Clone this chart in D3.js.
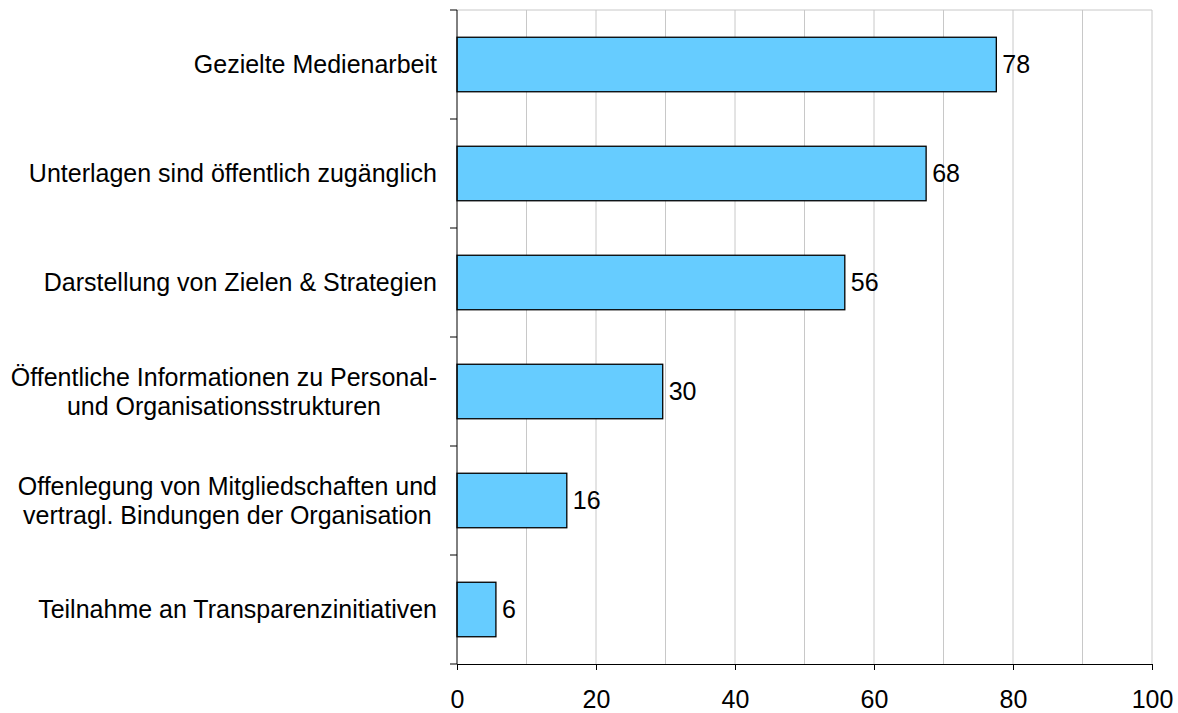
<!DOCTYPE html>
<html>
<head>
<meta charset="utf-8">
<script src="https://cdn.jsdelivr.net/npm/d3@7"></script>
<style>
    body { margin: 0; background: #fff; }
    svg { display: block; font-family: "Liberation Sans", Arial, sans-serif; }
</style>
</head>
<body>
<div id="chart"></div>
<script>
const categories = [
    ["Gezielte Medienarbeit"],
    ["Unterlagen sind öffentlich zugänglich"],
    ["Darstellung von Zielen & Strategien"],
    ["Öffentliche Informationen zu Personal-", "und Organisationsstrukturen"],
    ["Offenlegung von Mitgliedschaften und", "vertragl. Bindungen der Organisation"],
    ["Teilnahme an Transparenzinitiativen"]
];
const values = [77.6, 67.5, 55.8, 29.6, 15.8, 5.6];
const xTicks = [0, 20, 40, 60, 80, 100];
const gridTicks = [10, 20, 30, 40, 50, 60, 70, 80, 90, 100];

const chartApp = (() => {
    const width = 1178;
    const height = 713;
    const margin = { top: 10, right: 26, bottom: 49, left: 457 };
    const fontSize = 25;

    const draw = () => {
        const svg = d3.select("#chart").append("svg")
            .attr("width", width)
            .attr("height", height);

        const x = d3.scaleLinear()
            .domain([0, 100])
            .range([margin.left, width - margin.right]);

        const y = d3.scaleBand()
            .domain(d3.range(categories.length))
            .range([margin.top, height - margin.bottom])
            .paddingInner(0.5)
            .paddingOuter(0.25);

        // grid + plot border (top / right)
        svg.append("g")
            .selectAll("line")
            .data(gridTicks)
            .enter().append("line")
            .attr("x1", d => x(d)).attr("x2", d => x(d))
            .attr("y1", margin.top).attr("y2", height - margin.bottom)
            .attr("stroke", "#c8c8c8")
            .attr("stroke-width", 1);

        svg.append("line")
            .attr("x1", x(0)).attr("x2", x(100))
            .attr("y1", margin.top).attr("y2", margin.top)
            .attr("stroke", "#c8c8c8");

        // bars
        svg.append("g")
            .selectAll("rect")
            .data(values)
            .enter().append("rect")
            .attr("x", x(0))
            .attr("y", (d, i) => y(i))
            .attr("width", d => x(d) - x(0))
            .attr("height", y.bandwidth())
            .attr("fill", "#66ccff")
            .attr("stroke", "#000")
            .attr("stroke-width", 1.3);

        // value labels
        svg.append("g")
            .selectAll("text")
            .data(values)
            .enter().append("text")
            .attr("x", d => x(d) + 6)
            .attr("y", (d, i) => y(i) + y.bandwidth() / 2)
            .attr("dy", "0.35em")
            .attr("font-size", fontSize)
            .attr("fill", "#000")
            .text(d => d3.format(".0f")(d));

        // x axis
        const xAxis = svg.append("g")
            .attr("transform", `translate(0,${height - margin.bottom})`)
            .call(d3.axisBottom(x).tickValues(xTicks).tickSize(6).tickPadding(20));
        xAxis.selectAll("text").attr("font-size", fontSize).attr("fill", "#000").attr("font-family", null);
        xAxis.select(".domain").attr("d", `M${x(0)},0.5H${x(100)}`);

        // y axis: ticks on category boundaries
        const bounds = d3.range(categories.length + 1).map(i => margin.top + i * y.step());
        svg.append("line")
            .attr("x1", x(0)).attr("x2", x(0))
            .attr("y1", margin.top).attr("y2", height - margin.bottom)
            .attr("stroke", "#000");
        svg.append("g")
            .selectAll("line")
            .data(bounds)
            .enter().append("line")
            .attr("x1", x(0) - 7).attr("x2", x(0))
            .attr("y1", d => d).attr("y2", d => d)
            .attr("stroke", "#000");

        // category labels, centered block, right edge at axis - 20
        const lineH = 29;
        const labelRight = x(0) - 20;
        categories.forEach((lines, i) => {
            const g = svg.append("g");
            const texts = lines.map((line, j) => g.append("text")
                .attr("font-size", fontSize)
                .attr("fill", "#000")
                .attr("text-anchor", "middle")
                .attr("y", y(i) + y.bandwidth() / 2 + (j - (lines.length - 1) / 2) * lineH)
                .attr("dy", "0.35em")
                .text(line));
            const maxW = d3.max(texts, t => t.node().getComputedTextLength());
            texts.forEach(t => t.attr("x", labelRight - maxW / 2));
        });
    };

    return { draw };
})();

document.addEventListener('DOMContentLoaded', chartApp.draw);
</script>
</body>
</html>
